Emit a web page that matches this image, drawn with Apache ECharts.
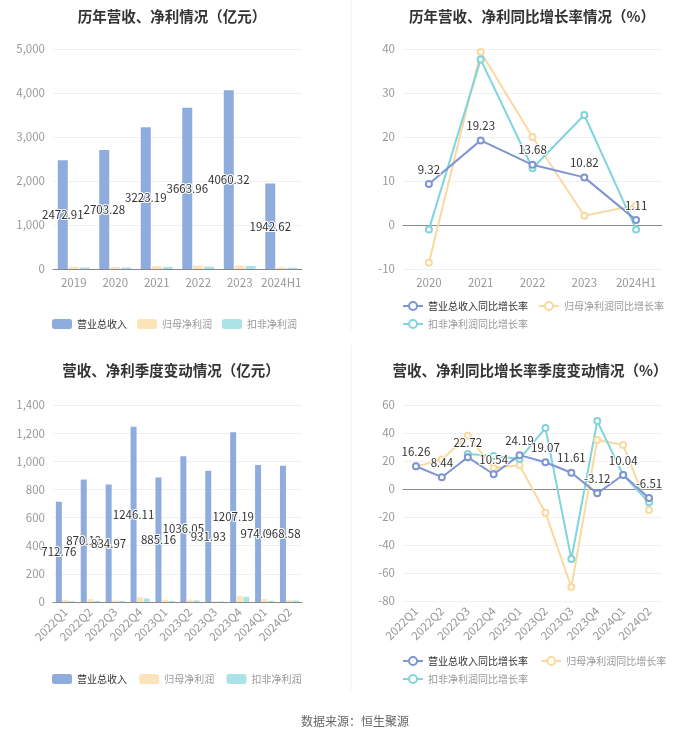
<!DOCTYPE html>
<html><head><meta charset="utf-8">
<script src="https://cdn.jsdelivr.net/npm/echarts@6/dist/echarts.min.js"></script>
<style>html,body{margin:0;padding:0;background:#fff}#c{width:700px;height:734px}</style>
</head><body><div id="c"></div>
<script>
// ---- data ----
var yearCats = ['2019','2020','2021','2022','2023','2024H1'];
var yearRevenue = [2472.91, 2703.28, 3223.19, 3663.96, 4060.32, 1942.62];
var yearNetProfit = [51.1, 46.7, 65.1, 78.1, 79.9, 36.4];
var yearDeductProfit = [34.9, 34.5, 47.5, 53.7, 67.1, 28.4];

var growthCats = ['2020','2021','2022','2023','2024H1'];
var growthRevenue = [9.32, 19.23, 13.68, 10.82, 1.11];
var growthNetProfit = [-8.6, 39.3, 20.0, 2.1, 4.5];
var growthDeduct = [-1.0, 37.6, 12.9, 25.0, -1.0];

var quarterCats = ['2022Q1','2022Q2','2022Q3','2022Q4','2023Q1','2023Q2','2023Q3','2023Q4','2024Q1','2024Q2'];
var quarterRevenue = [712.76, 870.12, 834.97, 1246.11, 885.16, 1036.05, 931.93, 1207.19, 974.04, 968.58];
var quarterNetProfit = [13.5, 20.5, 11.5, 32.6, 15.8, 17.0, 3.5, 44.0, 20.8, 14.5];
var quarterDeduct = [6.0, 8.0, 7.0, 25.0, 7.3, 11.5, 3.5, 37.1, 8.0, 10.5];

var qGrowthRevenue = [16.26, 8.44, 22.72, 10.54, 24.19, 19.07, 11.61, -3.12, 10.04, -6.51];
var qGrowthNetProfit = [16, 21, 38, 15, 17, -17, -70, 35, 31.5, -15];
var qGrowthDeduct = [null, null, 25, 23.5, 21.5, 43.5, -50, 48.5, 10, -9.5];

// ---- styles ----
var cBarBlue = '#8eacdc', cBarOrange = '#fde3b8', cBarTeal = '#a9e3e8';
var cLineBlue = '#7e95d3', cLineOrange = '#f9d9a0', cLineTeal = '#80d4dc';
var axisLabel = {color:'#999', fontSize:11.5, interval:0};
var splitLine = {lineStyle:{color:'#eef0f4'}};
var font = '"Noto Sans CJK SC", "Noto Sans", sans-serif';

function barSeries(name, data, color, xi, label){
  var s = {name:name, type:'bar', data:data, xAxisIndex:xi, yAxisIndex:xi,
    itemStyle:{color:color}};
  if(label){
    s.label = {show:true, position:'inside', color:'#333', fontSize:11.5,
      textBorderColor:'#fff', textBorderWidth:2};
  }
  return s;
}
function lineSeries(name, data, color, xi, label){
  var s = {name:name, type:'line', data:data, xAxisIndex:xi, yAxisIndex:xi,
    symbol:'emptyCircle', symbolSize:6, connectNulls:false,
    lineStyle:{color:color, width:2}, itemStyle:{color:color}};
  if(label){
    s.label = {show:true, position:'top', color:'#333', fontSize:11.5,
      textBorderColor:'#fff', textBorderWidth:2};
    s.z = 4;
  }
  return s;
}
function legendItems(names, firstDark){
  return names.map(function(n,i){return {name:n, textStyle:{color: (i===0 && firstDark)?'#333':'#999'}};});
}
function legend(left, top, names, firstDark, icon){
  var l = {left:left, top:top, width:300, padding:0, itemWidth:20, itemHeight:10, itemGap:10, textStyle:{fontSize:10},
    data:legendItems(names, firstDark)};
  if(icon) l.icon = icon;
  return l;
}

var option = {
  textStyle:{fontFamily:font},
  animation:false,
  title:[
    {text:'历年营收、净利情况（亿元）', left:167, top:4, textAlign:'center', textStyle:{fontSize:14.5, fontWeight:'bold', color:'#333'}},
    {text:'历年营收、净利同比增长率情况（%）', left:527, top:4, textAlign:'center', textStyle:{fontSize:14.5, fontWeight:'bold', color:'#333'}},
    {text:'营收、净利季度变动情况（亿元）', left:166, top:358, textAlign:'center', textStyle:{fontSize:14.5, fontWeight:'bold', color:'#333'}},
    {text:'营收、净利同比增长率季度变动情况（%）', left:525, top:358, textAlign:'center', textStyle:{fontSize:14.5, fontWeight:'bold', color:'#333'}},
    {text:'数据来源：恒生聚源', left:350, top:710, textAlign:'center', textStyle:{fontSize:12, fontWeight:'normal', color:'#666'}}
  ],
  legend:[
    legend(52, 319, ['营业总收入','归母净利润','扣非净利润'], true, 'roundRect'),
    legend(402, 301, ['营业总收入同比增长率','归母净利润同比增长率'], true),
    legend(402, 319, ['扣非净利润同比增长率'], false),
    legend(52, 674, ['营业总收入 ','归母净利润 ','扣非净利润 '], true, 'roundRect'),
    legend(402, 656, ['营业总收入同比增长率 ','归母净利润同比增长率 '], true),
    legend(402, 674, ['扣非净利润同比增长率 '], false)
  ],
  grid:[
    {left:53, top:49, width:249, height:220},
    {left:403, top:49, width:259, height:220},
    {left:53, top:405, width:249, height:197},
    {left:403, top:405, width:259, height:196}
  ],
  xAxis:[
    {gridIndex:0, type:'category', data:yearCats, axisLabel:axisLabel, axisTick:{show:false},
     axisLine:{lineStyle:{color:'#888'}}},
    {gridIndex:1, type:'category', data:growthCats, axisLabel:axisLabel, axisTick:{alignWithLabel:true, lineStyle:{color:'#888'}},
     axisLine:{lineStyle:{color:'#888'}}},
    {gridIndex:2, type:'category', data:quarterCats, axisLabel:Object.assign({rotate:45}, axisLabel),
     axisTick:{alignWithLabel:true, lineStyle:{color:'#888'}}, axisLine:{lineStyle:{color:'#888'}}},
    {gridIndex:3, type:'category', data:quarterCats, axisLabel:Object.assign({rotate:45}, axisLabel),
     axisTick:{alignWithLabel:true, lineStyle:{color:'#888'}}, axisLine:{lineStyle:{color:'#888'}}}
  ],
  yAxis:[
    {gridIndex:0, type:'value', min:0, max:5000, interval:1000, axisLabel:{color:'#999', fontSize:11.5}, splitLine:splitLine},
    {gridIndex:1, type:'value', min:-10, max:40, interval:10, axisLabel:{color:'#999', fontSize:11.5}, splitLine:splitLine},
    {gridIndex:2, type:'value', min:0, max:1400, interval:200, axisLabel:{color:'#999', fontSize:11.5}, splitLine:splitLine},
    {gridIndex:3, type:'value', min:-80, max:60, interval:20, axisLabel:{color:'#999', fontSize:11.5}, splitLine:splitLine}
  ],
  series:[
    barSeries('营业总收入', yearRevenue, cBarBlue, 0, true),
    barSeries('归母净利润', yearNetProfit, cBarOrange, 0),
    barSeries('扣非净利润', yearDeductProfit, cBarTeal, 0),
    lineSeries('营业总收入同比增长率', growthRevenue, cLineBlue, 1, true),
    lineSeries('归母净利润同比增长率', growthNetProfit, cLineOrange, 1),
    lineSeries('扣非净利润同比增长率', growthDeduct, cLineTeal, 1),
    barSeries('营业总收入 ', quarterRevenue, cBarBlue, 2, true),
    barSeries('归母净利润 ', quarterNetProfit, cBarOrange, 2),
    barSeries('扣非净利润 ', quarterDeduct, cBarTeal, 2),
    lineSeries('营业总收入同比增长率 ', qGrowthRevenue, cLineBlue, 3, true),
    lineSeries('归母净利润同比增长率 ', qGrowthNetProfit, cLineOrange, 3),
    lineSeries('扣非净利润同比增长率 ', qGrowthDeduct, cLineTeal, 3)
  ],
  graphic:[
    {type:'line', shape:{x1:351, y1:0, x2:351, y2:330}, style:{stroke:'#f0f0f0', lineWidth:1}},
    {type:'line', shape:{x1:351, y1:345, x2:351, y2:690}, style:{stroke:'#f0f0f0', lineWidth:1}}
  ]
};
var chart = echarts.init(document.getElementById('c'));
chart.setOption(option);
</script></body></html>
